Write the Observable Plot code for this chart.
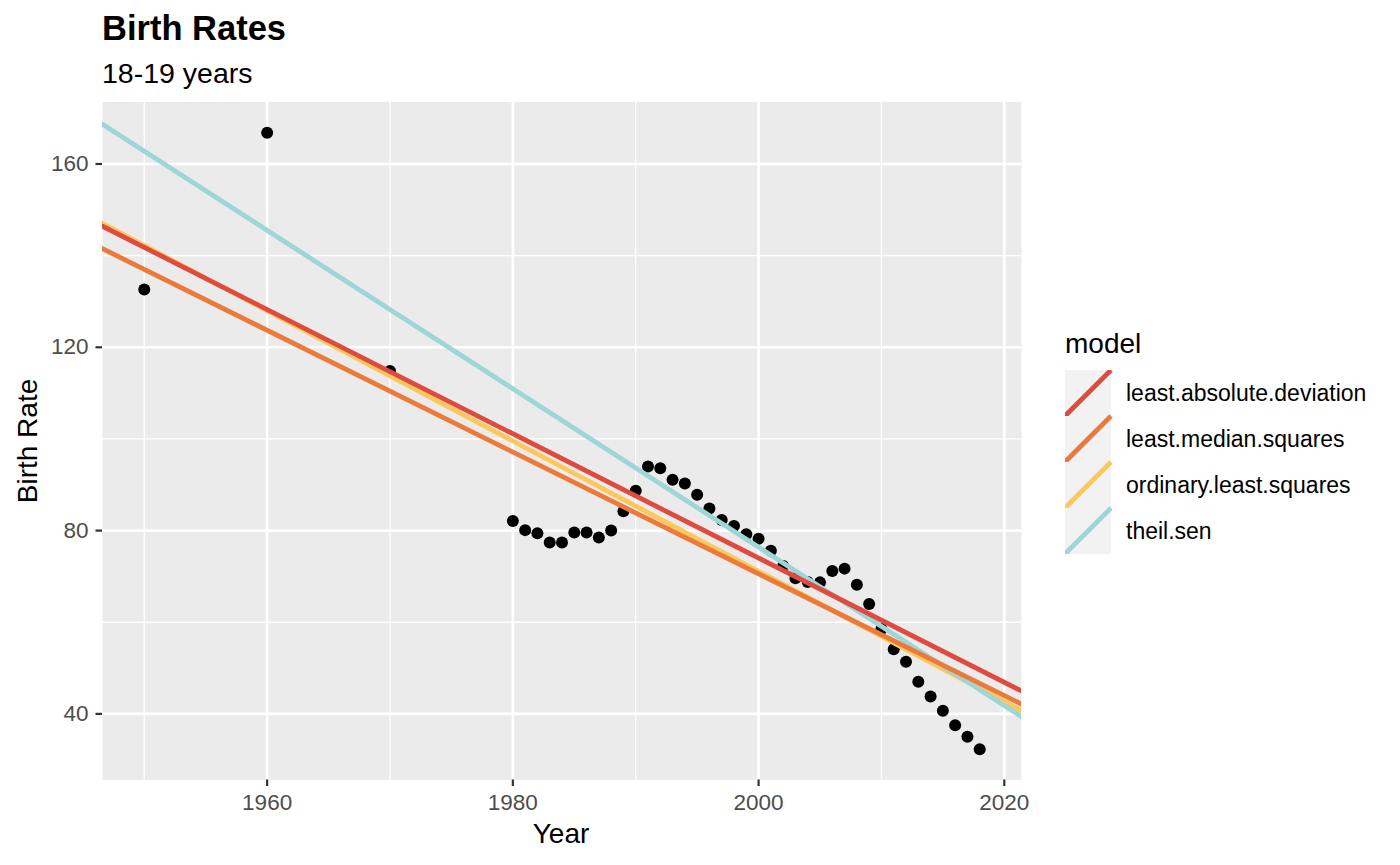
<!DOCTYPE html>
<html>
<head>
<meta charset="utf-8">
<script src="https://cdn.jsdelivr.net/npm/d3@7"></script>
<script src="https://cdn.jsdelivr.net/npm/@observablehq/plot@0.6"></script>
<style>
  html, body { margin: 0; padding: 0; background: #ffffff; }
  #wrap { position: relative; width: 1400px; height: 865px; font-family: "Liberation Sans", Arial, Helvetica, sans-serif; }
  #wrap svg.plot { position: absolute; left: 0; top: 0; }
  .abs { position: absolute; white-space: nowrap; color: #000; }
  #title { left: 102px; top: 9px; font-size: 34.5px; font-weight: bold; }
  #subtitle { left: 102px; top: 57px; font-size: 28.5px; }
  #xlabel { left: 561px; top: 818px; font-size: 28px; transform: translateX(-50%); }
  #ylabel { left: 28px; top: 441px; font-size: 28px; transform: translate(-50%, -50%) rotate(-90deg); }
  #legend { left: 1065px; top: 327px; }
</style>
</head>
<body>
<div id="wrap">
  <div id="title" class="abs">Birth Rates</div>
  <div id="subtitle" class="abs">18-19 years</div>
  <div id="xlabel" class="abs">Year</div>
  <div id="ylabel" class="abs">Birth Rate</div>
  <div id="legend" class="abs"></div>
</div>
<script>
// ---- data ----
const years = [1950, 1960, 1970,
  1980, 1981, 1982, 1983, 1984, 1985, 1986, 1987, 1988, 1989,
  1990, 1991, 1992, 1993, 1994, 1995, 1996, 1997, 1998, 1999,
  2000, 2001, 2002, 2003, 2004, 2005, 2006, 2007, 2008, 2009,
  2010, 2011, 2012, 2013, 2014, 2015, 2016, 2017, 2018];
const birthRates = [132.6, 166.8, 114.8,
  82.1, 80.1, 79.4, 77.4, 77.4, 79.6, 79.6, 78.5, 80.0, 84.2,
  88.7, 94.0, 93.6, 91.1, 90.3, 87.8, 84.8, 82.3, 81.0, 79.2,
  78.2, 75.6, 72.3, 69.6, 68.8, 68.7, 71.2, 71.7, 68.2, 64.0,
  58.5, 54.1, 51.4, 47.0, 43.8, 40.7, 37.5, 35.0, 32.3];

const models = ["least.absolute.deviation", "least.median.squares", "ordinary.least.squares", "theil.sen"];
const modelColors = ["#e04b40", "#ec7a3a", "#fdc85b", "#9ed6d8"];
// fitted value of each model line at 1950 and at 2020
const fitAt1950 = [141.8, 137.0, 142.2, 162.8];
const fitAt2020 = [46.9, 44.0, 42.7, 41.8];
const drawOrder = ["ordinary.least.squares", "theil.sen", "least.median.squares", "least.absolute.deviation"];

const xMajor = [1960, 1980, 2000, 2020];
const xMinor = [1950, 1970, 1990, 2010];
const yMajor = [40, 80, 120, 160];
const yMinor = [60, 100, 140];

// ---- scales domain (ggplot-style 5% expansion of data range) ----
const xExt = d3.extent(years), yExt = d3.extent(birthRates);
const xDom = [xExt[0] - 0.05 * (xExt[1] - xExt[0]), xExt[1] + 0.05 * (xExt[1] - xExt[0])];
const yDom = [yExt[0] - 0.05 * (yExt[1] - yExt[0]), yExt[1] + 0.05 * (yExt[1] - yExt[0])];

const points = years.map((y, i) => ({year: y, rate: birthRates[i]}));

// abline segments across the full panel
const lineRows = [];
drawOrder.forEach(m => {
  const i = models.indexOf(m);
  const slope = (fitAt2020[i] - fitAt1950[i]) / (2020 - 1950);
  xDom.forEach(x => lineRows.push({model: m, year: x, rate: fitAt1950[i] + slope * (x - 1950)}));
});

const chart = Plot.plot({
  width: 1400,
  height: 865,
  marginLeft: 102,
  marginRight: 379,
  marginTop: 101.5,
  marginBottom: 85.5,
  style: {fontFamily: "'Liberation Sans', Arial, Helvetica, sans-serif", fontSize: "22.5px", color: "#4d4d4d", background: "transparent", overflow: "visible"},
  x: {domain: xDom},
  y: {domain: yDom},
  color: {domain: models, range: modelColors},
  marks: [
    Plot.frame({fill: "#ebebeb", stroke: null}),
    Plot.gridX(xMinor, {stroke: "#ffffff", strokeOpacity: 1, strokeWidth: 1.3}),
    Plot.gridY(yMinor, {stroke: "#ffffff", strokeOpacity: 1, strokeWidth: 1.3}),
    Plot.gridX(xMajor, {stroke: "#ffffff", strokeOpacity: 1, strokeWidth: 2.6}),
    Plot.gridY(yMajor, {stroke: "#ffffff", strokeOpacity: 1, strokeWidth: 2.6}),
    Plot.axisX(xMajor, {tickSize: 6.5, tickPadding: 8, stroke: "#333333", strokeWidth: 2.2, fill: "#4d4d4d", label: null, tickFormat: d => String(d)}),
    Plot.axisY(yMajor, {tickSize: 6.5, tickPadding: 7.5, stroke: "#333333", strokeWidth: 2.2, fill: "#4d4d4d", label: null}),
    Plot.dot(points, {x: "year", y: "rate", r: 6, fill: "#000000", stroke: null}),
    Plot.line(lineRows, {x: "year", y: "rate", z: "model", stroke: "model", strokeWidth: 4.8, clip: true})
  ]
});
chart.classList.add("plot");
document.getElementById("wrap").prepend(chart);

// ---- legend ----
const leg = d3.select("#legend");
leg.append("div").style("font-size", "28px").style("color", "#000").style("line-height", "34px").style("margin-bottom", "9px").text("model");
const ls = leg.append("svg").attr("width", 320).attr("height", 184).style("display", "block").style("font-family", "'Liberation Sans', Arial, Helvetica, sans-serif");
models.forEach((m, i) => {
  const g = ls.append("g").attr("transform", `translate(0,${i * 46})`);
  g.append("rect").attr("width", 46).attr("height", 46).attr("fill", "#f2f2f2");
  g.append("line").attr("x1", 0).attr("y1", 46).attr("x2", 46).attr("y2", 0)
    .attr("stroke", modelColors[i]).attr("stroke-width", 4.8);
  g.append("text").attr("x", 61).attr("y", 23).attr("dy", "0.35em").attr("font-size", "23px").attr("fill", "#000").text(m);
});
</script>
</body>
</html>
